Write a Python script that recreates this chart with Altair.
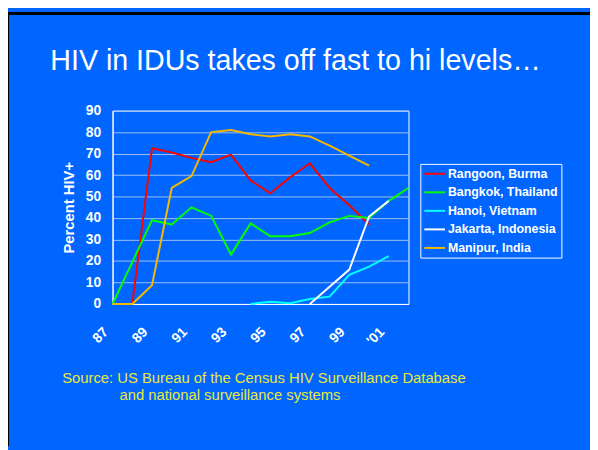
import altair as alt
import pandas as pd

# ---- data ----
years = list(range(1987, 2003))
series_names = ["Rangoon, Burma", "Bangkok, Thailand", "Hanoi, Vietnam",
                "Jakarta, Indonesia", "Manipur, India"]
rangoon = [None, 0, 72.5, 70.5, 68, 66, 69.5, 57.5, 51.5, 59, 65.5, 54, 46, 37, None, None]
bangkok = [0, 19.5, 39, 37, 45, 41, 23, 37.5, 31.5, 31.5, 33, 38, 41, 40, 48, 54]
hanoi = [None, None, None, None, None, None, None, 0, 1, 0.3, 2.3, 3.4, 13.6, 17.4, 22.3, None]
jakarta = [None, None, None, None, None, None, None, None, None, None, 0, 8, 16, 40.7, 48, None]
manipur = [0, 0, 8.7, 54, 59.5, 80, 81, 79, 78, 79, 78, 73.7, 69, 64.4, None, None]
series_colors = ["#FF0000", "#00FF00", "#00FFFF", "#FFFFFF", "#F5B800"]

x_ticks = [1987, 1989, 1991, 1993, 1995, 1997, 1999, 2001]
y_ticks = [0, 10, 20, 30, 40, 50, 60, 70, 80, 90]

title_text = "HIV in IDUs takes off fast to hi levels\u2026"
source_line1 = "Source: US Bureau of the Census HIV Surveillance Database"
source_line2 = "and national surveillance systems"

rows = []
for name, vals in zip(series_names, [rangoon, bangkok, hanoi, jakarta, manipur]):
    for yr, v in zip(years, vals):
        if v is not None:
            rows.append({"year": yr, "pct": v, "series": name})
df = pd.DataFrame(rows)

BLUE = "#0066FF"
FONT = "Liberation Sans"

lines = alt.Chart(df).mark_line(strokeWidth=2).encode(
    x=alt.X("year:Q",
            scale=alt.Scale(domain=[1987, 2002], nice=False, zero=False),
            axis=alt.Axis(values=x_ticks, title=None, grid=False, ticks=False,
                          labelExpr="datum.value == 2001 ? \"'01\" : substring(toString(datum.value), 2, 4)",
                          labelAngle=-45, labelAlign="right", labelBaseline="middle",
                          labelPadding=26, labelOffset=-7, labelFontSize=14)),
    y=alt.Y("pct:Q",
            scale=alt.Scale(domain=[0, 90], nice=False),
            axis=alt.Axis(values=y_ticks, title="Percent HIV+", ticks=False,
                          grid=True, gridColor="#A0BFF0", gridWidth=1,
                          labelPadding=12, labelFontSize=14,
                          titleFontSize=15, titleX=-45, titleY=98,
                          titleAngle=-90, titleAlign="center", titleBaseline="middle")),
    color=alt.Color("series:N", title=None,
                    scale=alt.Scale(domain=series_names, range=series_colors),
                    legend=alt.Legend(orient="none", legendX=312, legendY=54,
                                      strokeColor="#FFFFFF", padding=3,
                                      symbolType="M-1,0H2.5", symbolSize=144,
                                      symbolStrokeWidth=2,
                                      labelOffset=11, rowPadding=4.8,
                                      labelFont=FONT, labelFontWeight="bold",
                                      labelFontSize=12.5, labelColor="#FFFFFF")),
)

title_layer = alt.Chart(pd.DataFrame({"t": [title_text]})).mark_text(
    font=FONT, fontSize=29, color="#FFFFFF", align="center", baseline="alphabetic"
).encode(x=alt.value(185.5), y=alt.value(-41.3), text="t:N")

src1 = alt.Chart(pd.DataFrame({"t": [source_line1]})).mark_text(
    font=FONT, fontSize=15, color="#E8E83A", align="left", baseline="alphabetic"
).encode(x=alt.value(-51), y=alt.value(276), text="t:N")

src2 = alt.Chart(pd.DataFrame({"t": [source_line2]})).mark_text(
    font=FONT, fontSize=15, color="#E8E83A", align="left", baseline="alphabetic"
).encode(x=alt.value(7), y=alt.value(293), text="t:N")

frame_left = alt.Chart(pd.DataFrame({"k": [0]})).mark_rule(color="#000000", strokeWidth=3).encode(
    x=alt.value(-106.5), y=alt.value(-98.5), y2=alt.value(340))
frame_top = alt.Chart(pd.DataFrame({"k": [0]})).mark_rule(color="#000000", strokeWidth=3).encode(
    x=alt.value(-108), x2=alt.value(490), y=alt.value(-98.5))

chart = alt.layer(lines, title_layer, src1, src2, frame_left, frame_top).properties(
    width=300, height=196,
    autosize=alt.AutoSizeParams(type="none"),
    padding={"left": 106, "top": 101, "right": 184, "bottom": 145},
    background=BLUE,
).configure_view(
    stroke="#FFFFFF", strokeWidth=1
).configure_axis(
    labelFont=FONT, labelFontWeight="bold", labelColor="#FFFFFF",
    titleFont=FONT, titleFontWeight="bold", titleColor="#FFFFFF",
    domainColor="#FFFFFF", domainWidth=1
)

chart.save("out.html", embed_options={"renderer": "svg", "actions": False})
